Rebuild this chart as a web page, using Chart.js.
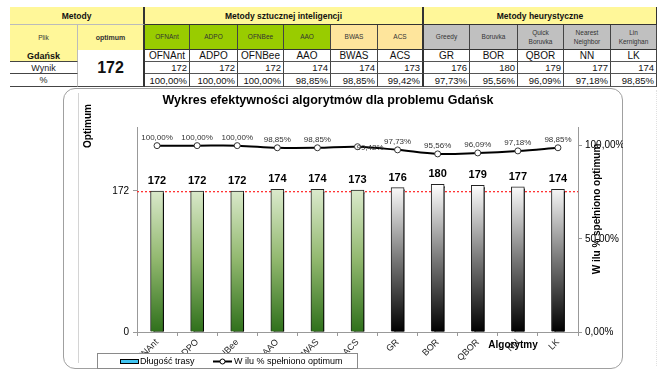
<!DOCTYPE html>
<html>
<head>
<meta charset="utf-8">
<script src="https://cdn.jsdelivr.net/npm/chart.js@4.4.1/dist/chart.umd.min.js"></script>
<style>
  html, body { margin:0; padding:0; background:#fff; width:660px; height:371px; overflow:hidden; font-family:"Liberation Sans", Arial, sans-serif; }
  .c { position:absolute; box-sizing:border-box; display:flex; align-items:center; justify-content:center; text-align:center; color:#111; white-space:nowrap; overflow:hidden; }
  #card { position:absolute; left:63px; top:88px; width:560px; height:281px; border:1px solid #a0a0a0; border-radius:12px; box-sizing:border-box; background:#fff; }
  #chartCanvas { position:absolute; left:63px; top:88px; }
</style>
</head>
<body>
<div id="table"></div>
<div id="card"></div>
<div style="position:absolute;left:78px;top:93px;width:0;height:270px;border-left:1px solid #d4d4d4;"></div>
<div style="position:absolute;left:656px;top:90px;width:0;height:276px;border-left:1px dotted #e0e0e0;"></div>
<canvas id="chartCanvas" width="560" height="281"></canvas>
<script>
// ---------------- DATA ----------------
const problemName = 'Gdańsk';
const optimumValue = 172;
const groupTitles = ['Metody', 'Metody sztucznej inteligencji', 'Metody heurystyczne'];
const methodHeaders = ['OFNAnt', 'ADPO', 'OFNBee', 'AAO', 'BWAS', 'ACS', 'Greedy', 'Boruvka', 'Quick<br>Boruvka', 'Nearest<br>Neighbor', 'Lin<br>Kernighan'];
const categories = ['OFNAnt', 'ADPO', 'OFNBee', 'AAO', 'BWAS', 'ACS', 'GR', 'BOR', 'QBOR', 'NN', 'LK'];
const routeLength = [172, 172, 172, 174, 174, 173, 176, 180, 179, 177, 174];
const percentOptimum = [100.00, 100.00, 100.00, 98.85, 98.85, 99.42, 97.73, 95.56, 96.09, 97.18, 98.85];
const leftTicks = [0, 172];
const rightTicks = [0, 50, 100];
const rowLabels = ['Plik', 'optimum', 'Wynik', '%'];

// ---------------- TABLE (layout) ----------------
const colX = [145, 190, 238, 284, 331, 378, 424, 470, 518, 564, 611, 657];
const headColor = i => i < 4 ? '#99cc00' : (i < 6 ? '#fee59c' : '#c0c0c0');
const YEL = '#fff799';
const fmtPct = v => v.toFixed(2).replace('.', ',') + '%';
const tbl = document.getElementById('table');
function cell(x, y, w, h, html, st) {
  const d = document.createElement('div');
  d.className = 'c';
  d.style.left = x + 'px'; d.style.top = y + 'px'; d.style.width = w + 'px'; d.style.height = h + 'px';
  d.innerHTML = html;
  Object.assign(d.style, st || {});
  tbl.appendChild(d);
  return d;
}
// row 1
cell(10, 7, 135, 18, groupTitles[0], {background:YEL, fontWeight:'bold', fontSize:'8.5px', borderRight:'2px solid #333', borderBottom:'1px solid #bbb'});
cell(145, 7, 279, 18, groupTitles[1], {background:YEL, fontWeight:'bold', fontSize:'8.5px', borderRight:'2px solid #333', borderBottom:'1px solid #333'});
cell(424, 7, 233, 18, groupTitles[2], {background:YEL, fontWeight:'bold', fontSize:'8.5px', borderRight:'1px solid #333', borderBottom:'1px solid #333'});
// row 2
cell(10, 25, 68, 25, rowLabels[0], {background:YEL, fontSize:'6.5px', color:'#333', borderRight:'1px solid #bbb'});
cell(78, 25, 67, 25, rowLabels[1], {background:YEL, fontSize:'7px', fontWeight:'bold', color:'#333', borderRight:'2px solid #333'});
for (let i = 0; i < 11; i++) {
  cell(colX[i], 25, colX[i+1] - colX[i], 25, methodHeaders[i], {background:headColor(i), fontSize:'6.5px', lineHeight:'1.45', color:'#333', borderRight:(i === 5 ? '2px solid #333' : '1px solid #444'), borderBottom:'1px solid #333'});
}
// rows 3-5 left part
cell(10, 50, 68, 12, problemName, {background:YEL, fontWeight:'bold', fontSize:'9px', borderBottom:'1px solid #444', borderRight:'1px solid #bbb'});
cell(10, 62, 68, 12, rowLabels[2], {fontSize:'9px', color:'#222', borderBottom:'1px solid #444', borderRight:'1px solid #bbb'});
cell(10, 74, 68, 13, rowLabels[3], {fontSize:'9px', color:'#222', borderBottom:'1px solid #444', borderRight:'1px solid #bbb'});
cell(78, 50, 67, 37, String(optimumValue), {fontWeight:'bold', fontSize:'16px', borderRight:'2px solid #333', borderBottom:'1px solid #444'});
for (let i = 0; i < 11; i++) {
  const w = colX[i+1] - colX[i];
  const br = (i === 5 ? '2px solid #333' : '1px solid #444');
  cell(colX[i], 50, w, 12, categories[i], {fontSize:'10px', borderRight:br, borderBottom:'1px solid #555'});
  cell(colX[i], 62, w, 12, String(routeLength[i]), {fontSize:'9.5px', justifyContent:'flex-end', paddingRight:'2px', borderRight:br, borderBottom:'1px solid #555'});
  cell(colX[i], 74, w, 13, fmtPct(percentOptimum[i]), {fontSize:'9.5px', justifyContent:'flex-end', paddingRight:'2px', borderRight:br, borderBottom:'1px solid #555'});
}

// ---------------- CHART ----------------
const FONT = '"Liberation Sans", Arial, sans-serif';
function barFill(c) {
  const chart = c.chart;
  const area = chart.chartArea;
  if (!area) return '#888';
  const top = chart.scales.y.getPixelForValue(180);
  const g = chart.ctx.createLinearGradient(0, area.bottom, 0, top);
  if (c.dataIndex < 6) {
    g.addColorStop(0, '#2f701b');
    g.addColorStop(0.5, '#93b970');
    g.addColorStop(1, '#e0edd3');
  } else {
    g.addColorStop(0, '#000000');
    g.addColorStop(0.5, '#7a7a7a');
    g.addColorStop(1, '#ffffff');
  }
  return g;
}

const deco = {
  id: 'deco',
  beforeDatasetsDraw(chart) {
    const {ctx, chartArea, scales} = chart;
    const y = Math.round(scales.y.getPixelForValue(optimumValue));
    ctx.save();
    ctx.shadowColor = 'rgba(0,0,0,0)';
    ctx.shadowOffsetX = 0;
    ctx.shadowOffsetY = 0;
    ctx.globalAlpha = 1;
    ctx.fillStyle = '#ff3333';
    for (let x = chartArea.left; x < chartArea.right; x += 4) {
      ctx.fillRect(x, y, Math.min(2, chartArea.right - x), 1.3);
    }
    ctx.restore();
  },
  beforeDatasetDraw(chart, args) {
    if (chart.data.datasets[args.index].type === 'bar') {
      const ctx = chart.ctx;
      ctx.save();
      ctx.shadowColor = '#000';
      ctx.shadowOffsetX = 3;
      ctx.shadowOffsetY = 2;
      ctx.shadowBlur = 0;
    }
  },
  afterDatasetDraw(chart, args) {
    if (chart.data.datasets[args.index].type === 'bar') chart.ctx.restore();
  },
  afterDatasetsDraw(chart) {
    const {ctx} = chart;
    ctx.save();
    // bar labels
    const barMeta = chart.getDatasetMeta(1);
    ctx.fillStyle = '#000';
    ctx.font = 'bold 11px ' + FONT;
    ctx.textAlign = 'center';
    ctx.textBaseline = 'middle';
    barMeta.data.forEach((el, i) => {
      ctx.fillText(String(routeLength[i]), el.x, el.y - 10);
    });
    // line labels
    const lineMeta = chart.getDatasetMeta(0);
    ctx.font = '8px ' + FONT;
    ctx.fillStyle = '#333';
    lineMeta.data.forEach((el, i) => {
      if (i === 5) {
        ctx.textAlign = 'left';
        ctx.fillText(fmtPct(percentOptimum[i]), el.x - 1, el.y + 1);
      } else {
        ctx.textAlign = 'center';
        ctx.fillText(fmtPct(percentOptimum[i]), el.x, el.y - 8);
      }
    });
    ctx.restore();
  },
  afterDraw(chart) {
    const {ctx} = chart;
    ctx.save();
    // title
    ctx.fillStyle = '#000';
    ctx.font = 'bold 12.5px ' + FONT;
    ctx.textAlign = 'center';
    ctx.textBaseline = 'middle';
    ctx.fillText('Wykres efektywności algorytmów dla problemu ' + problemName, 265, 13);
    // axis titles
    ctx.font = 'bold 10px ' + FONT;
    ctx.save();
    ctx.translate(25, 38);
    ctx.rotate(-Math.PI / 2);
    ctx.fillText('Optimum', 0, 0);
    ctx.restore();
    ctx.save();
    ctx.translate(534, 121);
    ctx.rotate(-Math.PI / 2);
    ctx.fillText('W ilu % spełniono optimum', 0, 0);
    ctx.restore();
    ctx.fillText('Algorytmy', 450, 257);
    // legend
    ctx.fillStyle = '#fff';
    ctx.fillRect(34, 265, 260, 15);
    ctx.strokeStyle = '#8a8a8a';
    ctx.lineWidth = 1;
    ctx.strokeRect(34.5, 265.5, 260, 15);
    ctx.fillStyle = '#3fc3f0';
    ctx.fillRect(57, 271, 18, 4);
    ctx.strokeStyle = '#000';
    ctx.strokeRect(57.5, 271.5, 18, 4);
    ctx.fillStyle = '#000';
    ctx.font = '9px ' + FONT;
    ctx.textAlign = 'left';
    ctx.fillText('Długość trasy', 77, 273.5);
    ctx.lineWidth = 2;
    ctx.beginPath(); ctx.moveTo(150, 273.5); ctx.lineTo(169, 273.5); ctx.stroke();
    ctx.lineWidth = 1;
    ctx.fillStyle = '#fff';
    ctx.beginPath(); ctx.arc(159.5, 273.5, 2.5, 0, Math.PI * 2); ctx.fill(); ctx.stroke();
    ctx.fillStyle = '#000';
    ctx.fillText('W ilu % spełniono optimum', 171, 273.5);
    ctx.restore();
  }
};

new Chart(document.getElementById('chartCanvas'), {
  data: {
    labels: categories,
    datasets: [
      {
        type: 'line', label: 'W ilu % spełniono optimum', data: percentOptimum, yAxisID: 'y1',
        borderColor: '#000', borderWidth: 2, tension: 0.35,
        pointRadius: 3, pointBackgroundColor: '#fff', pointBorderColor: '#333', pointBorderWidth: 1,
        order: 0
      },
      {
        type: 'bar', label: 'Długość trasy', data: routeLength, yAxisID: 'y',
        backgroundColor: barFill, borderColor: '#222', borderWidth: 1, barThickness: 13,
        borderSkipped: 'bottom', order: 1
      }
    ]
  },
  options: {
    responsive: false,
    animation: false,
    events: [],
    layout: { padding: { top: 39, left: 0, right: 0, bottom: 0 } },
    plugins: { legend: { display: false }, title: { display: false }, tooltip: { enabled: false } },
    scales: {
      x: {
        grid: { offset: true, drawOnChartArea: false, tickLength: 4, color: '#999' },
        border: { color: '#999' },
        ticks: { autoSkip: false, maxRotation: 45, minRotation: 45, padding: 1, color: '#222', font: { size: 9, family: FONT } },
        afterFit(s) { s.height = 37; }
      },
      y: {
        position: 'left', min: 0, max: 250,
        afterBuildTicks(s) { s.ticks = leftTicks.map(v => ({ value: v })); },
        grid: { drawOnChartArea: false, tickLength: 4, color: '#999' },
        border: { color: '#999' },
        ticks: { padding: 4, color: '#000', font: { size: 10, family: FONT } },
        afterFit(s) { s.width = 74; }
      },
      y1: {
        position: 'right', min: 0, max: 110,
        afterBuildTicks(s) { s.ticks = rightTicks.map(v => ({ value: v })); },
        grid: { drawOnChartArea: false, tickLength: 4, color: '#999' },
        border: { color: '#999' },
        ticks: { padding: 3, color: '#000', font: { size: 10, family: FONT }, callback: v => fmtPct(v) },
        afterFit(s) { s.width = 45; }
      }
    }
  },
  plugins: [deco]
});
</script>
</body>
</html>
